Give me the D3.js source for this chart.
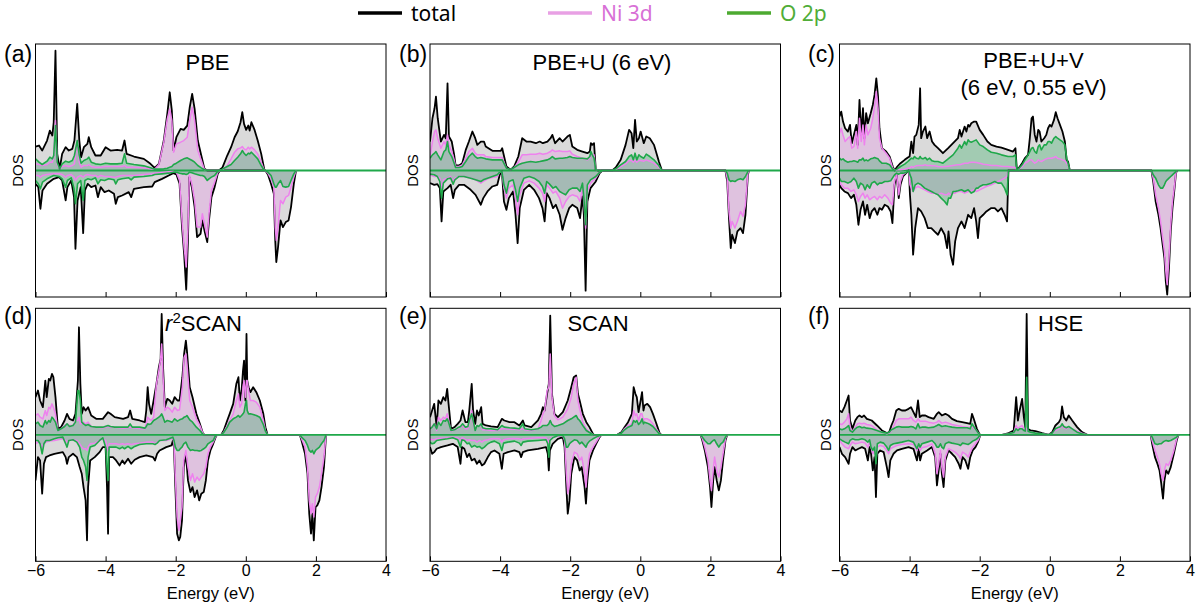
<!DOCTYPE html>
<html>
<head>
<meta charset="utf-8">
<script src="https://cdn.jsdelivr.net/npm/d3@7"></script>
<style>
  body { margin: 0; background: #fff; }
  svg text { font-family: "Liberation Sans", Arial, sans-serif; fill: #000; }
</style>
</head>
<body>
<svg id="chart" width="1198" height="609"></svg>
<script>
// energies (eV) and DOS values (arb. units)
// spin up rows: energy, total, Ni 3d, O 2p ; spin down likewise (negative)

// (a) PBE
const pbeUpE = [-6.00,-5.90,-5.81,-5.67,-5.59,-5.52,-5.48,-5.43,-5.38,-5.31,-5.24,-5.14,-5.05,-4.95,-4.89,-4.81,-4.75,-4.70,-4.62,-4.52,-4.48,-4.41,-4.29,-4.14,-4.00,-3.86,-3.67,-3.53,-3.46,-3.40,-3.19,-2.91,-2.72,-2.60,-2.48,-2.34,-2.24,-2.17,-2.11,-2.06,-1.98,-1.86,-1.77,-1.67,-1.60,-1.53,-1.46,-1.37,-1.27,-1.18,-1.10,-0.77,-0.67,-0.53,-0.42,-0.32,-0.23,-0.15,-0.10,-0.05,0.01,0.07,0.11,0.16,0.25,0.34,0.44,0.53];
const pbeUpTot = [7.2,7.5,6.0,9.0,12.0,10.5,14.5,36.0,5.0,0.5,5.0,7.0,6.0,6.5,9.0,20.0,9.0,4.0,7.0,8.0,10.0,7.0,4.5,4.5,7.0,6.0,6.2,6.0,9.0,5.0,4.2,3.5,2.0,0.8,2.0,9.0,17.0,23.5,18.0,6.0,10.0,12.5,12.2,13.5,19.0,23.0,18.5,9.0,4.5,0.5,0,0,0.8,4.5,7.0,10.0,11.8,14.5,17.5,14.0,12.2,13.5,12.0,14.5,12.2,9.0,5.0,0.2];
const pbeUpNi = [2.0,1.8,1.5,1.8,2.5,2.5,4.0,15.0,1.8,0.5,1.2,1.5,1.2,1.5,2.0,9.0,2.5,1.0,1.5,1.5,1.8,1.2,1.0,1.0,1.2,1.2,1.2,1.2,1.5,1.0,1.0,0.8,0.5,0.4,1.8,8.5,15.5,18.5,15.0,5.5,8.0,8.5,9.0,10.0,15.0,19.0,15.0,6.0,3.0,0.2,0,0,0.2,1.5,3.5,5.5,6.5,6.8,7.2,6.5,6.2,7.0,6.5,7.0,6.2,5.0,2.5,0];
const pbeUpO = [3.5,2.5,1.8,2.8,4.0,3.5,4.5,13.5,2.5,0.5,2.0,2.8,2.5,3.0,4.5,9.0,4.5,2.2,3.0,3.5,4.0,2.5,2.0,1.8,2.2,2.0,2.0,2.2,5.0,2.2,1.8,1.4,0.8,0.4,0.4,0.5,0.7,1.0,1.2,1.8,2.2,3.0,3.5,3.8,3.4,3.0,2.5,1.5,0.8,0.2,0,0,0.4,1.2,1.8,3.0,4.0,5.0,6.0,5.2,4.5,5.2,5.0,5.5,4.5,3.5,1.5,0];
const pbeDnE = [-6.00,-5.92,-5.86,-5.80,-5.67,-5.48,-5.33,-5.24,-5.14,-5.09,-4.98,-4.90,-4.86,-4.80,-4.71,-4.64,-4.59,-4.51,-4.41,-4.29,-4.22,-4.14,-4.03,-3.91,-3.76,-3.71,-3.65,-3.53,-3.34,-3.27,-3.19,-2.91,-2.67,-2.60,-2.39,-2.20,-2.07,-1.98,-1.89,-1.82,-1.76,-1.70,-1.65,-1.61,-1.54,-1.46,-1.39,-1.29,-1.24,-1.18,-1.10,-1.05,-0.98,-0.89,-0.80,-0.74,0.56,0.63,0.72,0.80,0.84,0.87,0.92,0.99,1.06,1.14,1.22,1.29,1.37,1.43];
const pbeDnTot = [-4.0,-5.0,-11.5,-6.0,-4.0,-2.5,-2.0,-3.0,-9.0,-5.0,-3.0,-8.0,-23.5,-9.0,-5.0,-18.8,-6.0,-4.0,-5.0,-4.5,-8.0,-5.0,-6.5,-6.0,-7.0,-10.0,-8.0,-7.5,-6.5,-8.0,-5.5,-5.0,-4.8,-3.5,-2.5,-1.5,-0.8,-1.2,-4.0,-17.0,-25.0,-35.8,-21.0,-2.0,-5.0,-11.0,-20.0,-19.0,-15.0,-18.0,-21.5,-15.0,-8.0,-5.0,-1.0,0,0,-1.2,-4.0,-7.0,-21.0,-27.5,-23.0,-15.0,-17.0,-15.5,-15.0,-11.0,-4.0,-0.2];
const pbeDnNi = [-1.5,-1.5,-2.0,-1.5,-1.2,-1.0,-1.0,-1.2,-2.0,-1.5,-1.2,-2.0,-3.0,-2.0,-1.5,-2.0,-1.5,-1.2,-1.5,-1.5,-2.0,-1.5,-1.8,-1.8,-2.0,-2.0,-1.8,-1.5,-1.5,-1.5,-1.5,-1.2,-1.0,-0.8,-0.6,-0.4,-0.3,-0.5,-3.0,-15.0,-23.0,-29.0,-17.0,-1.5,-4.0,-9.0,-17.0,-17.0,-13.0,-16.0,-20.0,-13.0,-6.0,-3.5,-0.5,0,0,-0.8,-2.5,-5.0,-17.0,-21.0,-17.0,-9.0,-10.0,-8.0,-7.5,-5.0,-2.0,0];
const pbeDnO = [-3.0,-4.0,-5.5,-3.5,-2.5,-1.5,-1.8,-2.5,-5.0,-3.0,-2.2,-5.5,-10.0,-4.0,-3.0,-9.0,-3.0,-2.5,-2.8,-2.2,-4.0,-2.8,-3.0,-2.5,-2.8,-4.0,-2.8,-2.5,-2.2,-2.8,-2.0,-1.8,-1.5,-1.2,-1.0,-0.8,-0.5,-0.5,-0.8,-1.0,-1.0,-1.2,-1.0,-0.5,-0.7,-1.0,-1.2,-1.5,-1.5,-1.8,-3.0,-2.5,-2.0,-1.5,-0.2,0,0,-0.5,-1.5,-4.0,-5.0,-5.0,-4.0,-3.0,-4.8,-5.0,-4.8,-3.0,-1.0,0];

// (b) PBE+U (6 eV)
const pbeuUpE = [-6.00,-5.93,-5.87,-5.83,-5.78,-5.69,-5.60,-5.55,-5.50,-5.46,-5.38,-5.31,-5.27,-5.17,-5.08,-4.98,-4.89,-4.79,-4.71,-4.65,-4.55,-4.46,-4.41,-4.22,-3.98,-3.94,-3.82,-3.70,-3.60,-3.48,-3.37,-3.25,-3.13,-2.98,-2.87,-2.78,-2.65,-2.56,-2.51,-2.43,-2.30,-2.22,-2.08,-2.01,-1.94,-1.80,-1.65,-1.51,-1.44,-1.41,-1.37,-1.32,-1.27,-1.18,-0.80,-0.70,-0.56,-0.42,-0.32,-0.25,-0.20,-0.15,-0.10,-0.04,0.01,0.10,0.17,0.27,0.39,0.53,0.61];
const pbeuUpTot = [8.7,15.7,18.7,22.2,15.7,8.7,10.7,9.7,26.2,10.2,8.7,4.7,1.5,1.5,2.2,6.2,8.7,11.7,9.7,7.7,8.7,8.7,7.2,5.9,5.9,6.7,1.2,0.2,1.2,4.2,9.7,8.7,8.7,8.2,8.7,8.2,8.7,9.7,10.7,8.2,9.7,8.7,10.2,10.7,7.2,6.2,5.7,5.2,5.7,8.2,7.7,8.2,0.2,0,0,0.9,3.2,7.7,12.2,11.2,6.7,15.2,8.7,9.7,11.7,8.2,10.2,9.7,7.7,2.7,0.2];
const pbeuUpNi = [4.2,8.7,11.7,12.2,9.7,6.7,8.7,7.7,10.7,7.7,5.7,3.2,1.2,1.2,1.7,3.7,5.7,6.7,5.2,4.7,4.7,4.7,4.2,3.9,3.9,3.9,0.7,0.2,0.9,2.5,4.7,4.7,4.9,4.9,5.2,4.9,5.2,5.7,6.2,5.7,5.9,5.7,5.7,5.9,4.9,4.2,3.7,3.2,3.7,4.7,4.7,4.7,0.2,0,0,0.3,1.2,2.0,3.0,3.0,2.5,3.2,2.5,3.0,3.0,2.8,3.2,2.8,2.2,1.0,0.1];
const pbeuUpO = [3.7,4.7,5.2,5.7,4.7,3.2,5.7,6.2,8.7,5.7,4.2,2.2,0.9,0.9,1.2,2.7,4.2,5.2,4.2,3.7,3.9,3.7,3.5,3.2,3.2,3.2,0.7,0.2,0.9,1.7,2.2,2.5,2.7,2.5,2.7,2.9,3.2,3.7,4.2,3.5,3.7,3.7,3.9,4.2,3.9,3.7,3.7,3.5,4.2,5.7,4.7,3.7,0.2,0,0,0.5,1.7,2.7,4.2,4.7,3.2,5.2,3.2,4.7,4.2,3.7,4.9,4.2,3.2,1.5,0.1];
const pbeuDnE = [-6.00,-5.88,-5.79,-5.72,-5.67,-5.62,-5.50,-5.41,-5.34,-5.29,-5.17,-5.03,-4.84,-4.70,-4.55,-4.48,-4.36,-4.22,-4.08,-4.01,-3.95,-3.89,-3.82,-3.75,-3.63,-3.56,-3.50,-3.44,-3.32,-3.17,-3.03,-2.89,-2.79,-2.73,-2.67,-2.59,-2.49,-2.41,-2.30,-2.22,-2.13,-2.03,-1.94,-1.80,-1.72,-1.65,-1.61,-1.56,-1.51,-1.42,-1.27,-1.16,-1.08,2.43,2.48,2.53,2.58,2.62,2.70,2.77,2.86,2.93,3.00,3.07,3.10];
const pbeuDnTot = [-3.8,-4.3,-4.1,-5.3,-15.3,-6.3,-5.3,-4.3,-8.3,-5.8,-4.3,-4.3,-5.8,-7.3,-10.3,-8.3,-6.3,-4.8,-4.3,-1.3,-0.3,-9.3,-11.8,-8.3,-6.3,-13.3,-21.8,-11.3,-5.8,-4.3,-5.8,-8.3,-11.3,-15.3,-6.8,-8.3,-11.3,-10.3,-13.3,-17.8,-14.3,-11.3,-10.3,-11.3,-14.3,-7.8,-13.3,-36.1,-9.3,-5.3,-3.3,-0.8,0,0,-3.3,-14.3,-23.3,-19.3,-21.8,-18.3,-17.3,-18.8,-13.3,-1.3,0];
const pbeuDnNi = [-1.3,-1.8,-1.8,-2.3,-5.3,-2.8,-2.3,-1.8,-3.3,-2.3,-1.8,-1.8,-2.3,-2.8,-3.8,-3.3,-2.5,-2.1,-1.8,-0.5,-0.3,-5.3,-8.3,-5.3,-4.3,-8.3,-13.3,-7.3,-3.8,-3.1,-3.8,-5.3,-6.8,-9.3,-4.3,-5.3,-6.8,-6.3,-8.3,-11.3,-9.3,-7.8,-7.3,-7.8,-9.3,-5.3,-9.3,-17.3,-6.3,-3.8,-2.3,-0.5,0,0,-2.3,-12.3,-17.3,-15.3,-17.3,-15.3,-12.3,-13.8,-10.3,-0.8,0];
const pbeuDnO = [-1.1,-1.3,-1.8,-3.3,-8.3,-3.8,-2.5,-2.3,-4.1,-2.8,-1.8,-1.8,-2.3,-2.8,-3.3,-2.8,-2.3,-1.8,-1.3,-0.5,-0.3,-4.3,-6.8,-3.3,-2.8,-5.8,-9.3,-5.3,-2.3,-1.8,-2.3,-3.3,-4.8,-6.8,-3.3,-4.1,-5.3,-4.8,-6.3,-6.8,-7.3,-5.8,-5.3,-5.3,-6.3,-3.8,-8.3,-16.3,-4.3,-2.8,-1.8,-0.5,0,0,-0.8,-2.8,-3.3,-3.1,-3.3,-2.8,-2.5,-2.8,-1.8,-0.3,0];

// (c) PBE+U+V (6 eV, 0.55 eV)
const pbeuvUpE = [-6.00,-5.95,-5.90,-5.84,-5.76,-5.70,-5.65,-5.59,-5.52,-5.48,-5.43,-5.38,-5.33,-5.29,-5.24,-5.19,-5.11,-5.05,-5.00,-4.95,-4.90,-4.86,-4.79,-4.67,-4.57,-4.48,-4.43,-4.35,-4.26,-4.14,-4.05,-4.00,-3.95,-3.90,-3.86,-3.81,-3.74,-3.70,-3.67,-3.62,-3.55,-3.50,-3.43,-3.36,-3.29,-3.19,-3.05,-2.90,-2.76,-2.62,-2.57,-2.52,-2.43,-2.38,-2.33,-2.29,-2.24,-2.16,-2.10,-2.00,-1.90,-1.78,-1.67,-1.52,-1.38,-1.19,-1.05,-0.98,-0.94,-0.89,-0.79,-0.71,-0.62,-0.57,-0.52,-0.48,-0.43,-0.38,-0.33,-0.29,-0.24,-0.16,-0.10,-0.05,0.00,0.05,0.12,0.17,0.22,0.29,0.36,0.43,0.48,0.52,0.57];
const pbeuvUpTot = [16.2,17.7,14.7,12.7,11.7,13.7,8.2,10.7,13.7,7.7,21.2,10.7,18.7,9.7,17.2,14.2,17.2,19.7,22.7,27.7,22.2,12.7,6.7,5.7,4.2,1.2,0,1.2,2.2,3.2,3.9,4.2,8.7,5.2,10.2,10.7,13.7,24.7,9.7,11.7,13.2,9.7,11.7,8.7,7.7,6.7,5.2,6.7,8.2,9.7,12.2,10.2,13.2,11.7,13.7,13.2,14.2,14.7,14.7,12.2,10.7,8.7,7.7,7.2,6.9,6.2,5.7,6.7,0.2,0.7,2.2,3.7,4.7,9.7,15.7,16.2,10.7,8.7,12.2,11.7,8.7,9.7,10.7,12.7,13.7,13.2,15.2,17.5,15.7,13.7,11.7,8.7,3.2,2.7,0];
const pbeuvUpNi = [11.2,12.7,10.7,8.7,9.7,10.2,6.7,7.2,11.7,6.7,15.7,8.7,13.7,7.7,13.7,10.7,12.7,15.7,19.2,23.7,18.7,9.7,6.7,5.2,3.7,0.7,0,0.2,0.2,0.4,0.7,0.7,1.2,0.9,1.2,1.4,1.5,1.5,1.5,1.5,1.7,1.5,1.5,1.4,1.4,1.2,1.1,1.3,1.5,1.7,1.7,1.9,2.2,2.2,2.2,2.4,2.5,2.5,2.4,2.2,1.9,1.7,1.5,1.5,1.3,1.2,1.0,0.9,0.2,0.4,1.2,2.2,2.7,3.2,3.2,2.7,2.2,2.5,3.2,2.9,2.7,3.2,3.5,3.7,3.7,3.7,3.9,4.2,3.7,3.5,3.2,2.9,2.2,1.7,0];
const pbeuvUpO = [3.7,3.2,3.5,2.9,2.5,2.7,2.7,2.9,2.7,2.5,3.2,3.2,3.7,2.9,3.2,2.9,3.5,3.7,3.9,3.7,3.5,2.9,2.2,2.2,1.7,0.4,0,0.5,1.2,1.9,2.7,3.2,3.7,3.5,4.2,3.7,3.5,4.2,3.7,3.5,3.9,3.2,3.7,2.9,2.7,2.7,2.2,3.5,4.7,6.7,7.7,6.7,8.7,7.7,9.2,8.7,8.5,8.9,9.2,7.7,7.2,6.2,5.5,5.2,4.7,4.2,4.2,4.7,0.2,0.5,1.7,3.2,4.7,5.7,6.7,6.9,5.7,5.2,7.2,7.7,6.2,7.7,7.7,8.7,8.7,8.2,9.7,10.2,9.7,9.2,8.7,7.7,3.7,2.2,0];
const pbeuvDnE = [-6.00,-5.95,-5.86,-5.76,-5.67,-5.59,-5.52,-5.46,-5.40,-5.33,-5.27,-5.21,-5.14,-5.08,-5.00,-4.92,-4.86,-4.79,-4.71,-4.62,-4.54,-4.49,-4.43,-4.37,-4.31,-4.26,-4.19,-4.10,-4.02,-3.99,-3.95,-3.90,-3.84,-3.76,-3.67,-3.57,-3.48,-3.38,-3.29,-3.19,-3.10,-3.00,-2.93,-2.89,-2.83,-2.76,-2.70,-2.62,-2.52,-2.43,-2.33,-2.24,-2.16,-2.10,-2.05,-2.00,-1.90,-1.81,-1.67,-1.57,-1.48,-1.38,-1.29,-1.22,-1.18,2.90,2.95,3.02,3.10,3.16,3.22,3.27,3.31,3.35,3.40,3.45,3.50,3.55,3.60,3.63];
const pbeuvDnTot = [-4.3,-5.3,-6.3,-6.8,-8.3,-7.3,-10.3,-16.3,-11.8,-9.3,-13.3,-10.3,-14.3,-12.3,-11.3,-13.3,-11.3,-11.8,-10.3,-10.8,-12.3,-15.8,-4.3,-1.3,-8.3,-4.3,-1.8,-0.8,0,-7.3,-13.3,-25.3,-17.3,-11.3,-12.3,-14.3,-17.3,-17.3,-18.3,-19.3,-17.3,-19.3,-23.3,-18.3,-25.3,-28.3,-21.3,-17.3,-15.3,-17.3,-13.3,-14.3,-11.3,-15.3,-20.3,-14.3,-13.3,-12.3,-11.3,-11.3,-12.3,-11.3,-13.3,-15.3,0,0,-3.3,-9.3,-13.3,-17.3,-22.3,-26.3,-33.3,-37.3,-29.3,-18.3,-11.3,-6.3,-0.8,0];
const pbeuvDnNi = [-3.3,-4.3,-5.3,-5.3,-6.3,-5.8,-7.3,-9.3,-7.8,-6.8,-8.3,-7.3,-8.8,-8.3,-7.8,-8.8,-7.8,-8.3,-7.3,-8.3,-9.8,-10.3,-3.3,-1.1,-7.3,-3.3,-1.3,-0.6,0,-4.3,-5.3,-6.3,-5.3,-4.8,-5.3,-5.8,-6.3,-6.8,-6.8,-7.3,-6.8,-7.3,-7.3,-6.8,-7.3,-6.8,-6.8,-6.3,-6.3,-6.8,-6.3,-6.1,-5.8,-6.3,-6.1,-5.8,-5.3,-4.8,-4.3,-3.8,-3.3,-2.8,-2.3,-1.8,0,0,-2.3,-7.3,-11.3,-15.3,-20.3,-24.3,-30.3,-34.3,-26.3,-16.3,-9.3,-5.3,-0.6,0];
const pbeuvDnO = [-2.3,-3.3,-3.3,-3.8,-3.3,-2.3,-3.3,-5.3,-3.8,-4.3,-5.8,-4.3,-5.3,-3.8,-3.3,-4.3,-3.8,-3.8,-3.3,-3.3,-3.1,-2.3,-1.3,-0.8,-1.1,-0.8,-0.8,-0.6,0,-1.3,-2.3,-6.3,-4.3,-3.8,-4.3,-5.3,-5.8,-6.3,-6.8,-7.3,-8.3,-9.3,-10.3,-8.3,-8.3,-6.3,-6.3,-6.1,-5.8,-6.3,-5.8,-6.8,-6.3,-5.3,-5.3,-4.8,-4.3,-4.3,-3.8,-3.3,-3.8,-3.8,-5.3,-7.3,0,0,-1.3,-2.3,-4.3,-5.3,-5.3,-4.3,-3.3,-2.8,-2.3,-1.8,-1.3,-0.8,-0.3,0];

// (d) r2SCAN
const r2scanUpE = [-6.00,-5.93,-5.87,-5.79,-5.72,-5.68,-5.62,-5.58,-5.53,-5.49,-5.43,-5.36,-5.27,-5.17,-5.10,-5.03,-4.93,-4.86,-4.79,-4.76,-4.72,-4.68,-4.63,-4.57,-4.50,-4.41,-4.27,-4.08,-3.93,-3.86,-3.74,-3.50,-3.36,-3.30,-3.24,-3.03,-2.88,-2.84,-2.80,-2.76,-2.70,-2.63,-2.55,-2.48,-2.43,-2.40,-2.36,-2.31,-2.24,-2.17,-2.10,-2.03,-1.95,-1.89,-1.81,-1.76,-1.71,-1.68,-1.60,-1.52,-1.41,-1.31,-1.22,-1.17,-0.70,-0.63,-0.53,-0.46,-0.36,-0.27,-0.21,-0.17,-0.12,-0.08,-0.05,-0.01,0.02,0.04,0.08,0.13,0.21,0.30,0.40,0.50,0.56,0.62];
const r2scanUpTot = [11.3,13.3,10.3,8.3,16.3,11.3,16.8,16.3,18.3,17.3,11.3,1.8,2.3,4.3,6.3,4.8,4.3,6.3,16.3,32.3,15.3,6.3,8.3,7.3,8.3,5.8,4.8,4.8,6.8,6.3,5.3,4.8,5.3,7.3,4.8,4.3,3.8,7.3,14.3,9.3,6.3,10.3,15.3,20.3,22.8,36.3,20.3,8.3,10.8,10.3,9.3,11.3,10.3,10.3,17.3,24.3,28.3,25.3,14.3,11.3,6.3,3.3,0.3,0,0,1.3,4.3,6.3,9.3,15.3,17.3,10.3,13.3,19.3,22.3,10.3,30.3,16.3,14.3,12.8,14.3,12.8,10.3,6.3,2.3,0];
const r2scanUpNi = [5.8,6.3,5.3,4.8,7.3,5.8,8.3,7.8,9.3,8.3,6.3,1.3,1.8,2.8,3.3,2.8,2.8,4.3,4.3,5.3,3.3,3.3,3.8,3.3,3.8,2.5,2.3,2.1,2.5,2.3,2.3,2.0,2.1,2.3,2.1,1.9,1.8,3.3,5.3,4.8,4.3,5.3,15.3,19.3,22.8,27.3,17.3,7.3,8.3,7.8,6.8,8.3,7.3,7.5,14.3,23.3,24.3,21.3,10.3,8.3,4.8,2.8,0.3,0,0,0.8,2.8,4.3,6.3,10.3,12.3,8.3,9.3,14.3,16.3,11.3,16.3,16.3,13.3,10.3,10.3,9.8,8.3,4.3,1.3,0];
const r2scanUpO = [3.3,3.8,2.8,2.3,4.3,3.3,4.3,3.8,5.3,4.8,3.8,1.3,1.8,2.5,3.3,2.5,2.8,3.8,13.3,13.3,10.3,3.8,3.3,2.8,3.1,2.5,2.3,2.3,2.8,2.5,2.3,2.3,2.3,3.3,2.3,2.3,2.0,2.5,3.3,3.1,3.3,4.3,4.8,5.3,5.8,6.3,5.3,3.8,4.3,4.1,3.8,4.8,4.1,4.5,4.8,5.3,5.5,5.8,4.5,3.8,2.3,1.3,0.1,0,0,0.7,2.3,3.8,4.8,5.3,5.8,5.3,5.8,6.3,6.8,9.3,10.3,7.3,6.3,6.3,6.1,5.8,5.3,3.1,1.1,0];
const r2scanDnE = [-6.00,-5.93,-5.87,-5.81,-5.76,-5.70,-5.60,-5.46,-5.36,-5.22,-5.14,-5.10,-5.05,-4.93,-4.82,-4.74,-4.68,-4.63,-4.57,-4.53,-4.50,-4.44,-4.31,-4.17,-4.08,-4.00,-3.96,-3.93,-3.90,-3.79,-3.70,-3.60,-3.52,-3.46,-3.36,-3.27,-3.17,-3.03,-2.84,-2.65,-2.59,-2.53,-2.46,-2.27,-2.12,-2.08,-2.05,-2.01,-1.96,-1.91,-1.87,-1.82,-1.77,-1.71,-1.65,-1.58,-1.52,-1.46,-1.39,-1.33,-1.27,-1.20,-1.14,-1.08,-1.01,-0.93,-0.86,-0.82,1.54,1.59,1.69,1.76,1.81,1.86,1.90,1.94,1.99,2.04,2.10,2.16,2.23,2.29];
const r2scanDnTot = [-13.7,-6.7,-7.7,-17.7,-8.7,-6.7,-6.2,-5.7,-5.5,-5.2,-6.7,-8.7,-6.7,-5.7,-6.7,-9.7,-11.7,-15.7,-19.7,-31.7,-15.7,-7.7,-6.7,-5.2,-3.7,-3.7,-15.7,-29.7,-6.7,-6.7,-7.7,-9.2,-7.7,-8.7,-7.2,-8.7,-7.5,-6.7,-6.2,-6.7,-7.7,-5.7,-4.7,-3.7,-3.2,-1.7,-3.7,-15.7,-29.7,-31.7,-30.7,-25.7,-9.7,-5.7,-13.7,-17.2,-15.7,-18.7,-16.7,-19.7,-17.7,-17.2,-13.7,-7.7,-4.7,-2.7,-0.7,0,0,-1.7,-5.7,-11.7,-23.7,-29.7,-23.7,-31.7,-21.7,-21.2,-19.7,-15.7,-9.7,0];
const r2scanDnNi = [-2.7,-2.2,-2.5,-3.7,-2.7,-2.2,-1.9,-1.7,-1.5,-1.2,-1.7,-2.2,-1.7,-1.5,-1.7,-2.7,-3.7,-4.2,-4.2,-4.7,-3.7,-2.7,-2.5,-1.7,-1.2,-1.7,-3.7,-4.7,-2.7,-2.7,-2.7,-2.9,-2.7,-2.9,-2.7,-2.9,-2.7,-2.5,-2.2,-2.2,-2.7,-2.2,-1.7,-1.7,-1.2,-0.9,-2.7,-12.7,-24.7,-28.7,-25.7,-21.7,-7.7,-4.7,-9.7,-13.7,-11.7,-14.2,-12.7,-13.7,-12.7,-11.7,-9.7,-5.7,-3.7,-2.2,-0.5,0,0,-1.2,-3.7,-9.7,-19.7,-23.7,-20.7,-24.7,-18.7,-17.7,-15.7,-11.7,-6.7,0];
const r2scanDnO = [-1.7,-1.7,-2.7,-5.7,-2.7,-1.7,-1.7,-1.2,-0.9,-0.7,-2.7,-3.7,-1.7,-1.5,-2.2,-3.7,-6.7,-7.7,-9.7,-13.7,-6.7,-3.7,-3.2,-1.7,-0.9,-3.7,-9.7,-13.7,-3.7,-3.7,-3.7,-4.2,-3.7,-4.2,-3.5,-4.2,-3.5,-2.9,-2.7,-2.7,-2.9,-2.5,-1.7,-1.5,-0.9,-0.7,-1.7,-3.7,-4.7,-4.7,-4.2,-3.7,-2.7,-2.2,-3.7,-4.7,-4.5,-4.7,-4.7,-4.9,-4.7,-4.2,-3.7,-2.7,-2.2,-1.7,-0.2,0,0,-0.7,-1.7,-3.2,-4.7,-5.2,-4.7,-5.7,-4.7,-4.2,-3.7,-2.7,-1.7,0];

// (e) SCAN
const scanUpE = [-6.00,-5.94,-5.88,-5.81,-5.76,-5.69,-5.62,-5.56,-5.51,-5.47,-5.40,-5.30,-5.21,-5.13,-5.07,-4.99,-4.92,-4.88,-4.81,-4.77,-4.71,-4.66,-4.61,-4.54,-4.50,-4.40,-4.26,-4.07,-3.95,-3.88,-3.73,-3.59,-3.45,-3.35,-3.30,-3.11,-2.92,-2.83,-2.78,-2.73,-2.66,-2.61,-2.57,-2.52,-2.45,-2.35,-2.21,-2.07,-1.97,-1.90,-1.83,-1.78,-1.73,-1.64,-1.54,-1.45,-1.35,-1.32,-0.66,-0.54,-0.45,-0.35,-0.24,-0.19,-0.14,-0.10,-0.05,0.01,0.05,0.09,0.12,0.20,0.28,0.36,0.46,0.55,0.60];
const scanUpTot = [5.3,7.3,9.3,2.3,10.3,9.3,11.3,10.3,13.8,9.3,1.8,2.3,3.3,4.3,7.3,3.8,3.8,7.3,15.3,7.3,3.3,7.3,5.8,8.3,3.3,2.8,2.5,2.3,4.8,4.3,3.8,3.8,2.8,4.3,2.8,2.3,4.3,6.3,8.3,7.3,12.3,15.3,35.8,12.3,6.3,5.3,6.8,10.3,14.3,17.3,17.8,12.3,10.3,6.3,3.8,2.3,0.3,0,0,0.8,2.3,3.8,6.3,14.3,12.3,11.3,6.8,10.3,12.8,7.3,8.8,9.3,8.3,6.3,3.3,0.5,0];
const scanUpNi = [1.8,2.5,3.3,1.3,5.3,4.3,5.3,4.8,6.3,4.3,1.1,1.5,1.8,2.3,2.8,1.8,1.8,3.3,7.3,3.3,1.5,2.8,2.5,3.1,1.5,1.5,1.3,1.3,1.8,1.8,1.7,1.7,1.5,1.9,1.5,1.3,1.8,4.3,6.3,7.3,13.3,14.3,24.3,11.3,5.8,4.5,5.3,7.8,11.3,15.3,17.3,10.3,7.8,3.8,1.8,0.8,0.1,0,0,0.5,1.8,2.8,3.3,7.3,5.8,6.3,4.3,6.3,6.3,4.3,4.8,4.8,4.3,3.3,1.8,0.3,0];
const scanUpO = [1.8,2.3,3.3,1.8,3.8,2.8,4.3,4.1,4.8,3.8,1.3,1.5,2.1,2.5,3.3,2.3,2.5,4.3,6.3,4.3,1.3,2.8,2.5,3.3,2.1,1.8,1.8,1.5,2.8,2.3,2.1,2.0,1.8,3.3,1.8,1.5,1.8,2.3,2.8,2.8,2.8,3.3,4.3,3.1,2.5,2.8,3.3,4.3,4.8,5.3,5.8,4.8,4.3,2.8,1.3,0.7,0.1,0,0,0.5,1.5,2.3,2.8,4.3,3.8,4.3,3.1,3.8,4.8,3.3,3.8,3.5,3.1,2.5,1.3,0.2,0];
const scanDnE = [-6.00,-5.94,-5.88,-5.81,-5.69,-5.50,-5.35,-5.21,-5.13,-5.09,-5.02,-4.94,-4.88,-4.81,-4.73,-4.66,-4.59,-4.52,-4.45,-4.35,-4.26,-4.16,-4.02,-3.95,-3.90,-3.78,-3.59,-3.45,-3.40,-3.35,-3.21,-2.92,-2.69,-2.64,-2.61,-2.58,-2.50,-2.35,-2.21,-2.16,-2.11,-2.07,-2.02,-1.97,-1.88,-1.80,-1.73,-1.67,-1.59,-1.55,-1.51,-1.45,-1.35,-1.26,-1.16,-1.11,1.72,1.77,1.84,1.93,1.99,2.03,2.08,2.12,2.18,2.24,2.30,2.36,2.43,2.48];
const scanDnTot = [-3.7,-5.7,-5.2,-4.2,-3.7,-3.2,-2.7,-3.7,-8.7,-3.7,-4.2,-6.7,-5.7,-7.7,-7.2,-8.7,-7.7,-9.2,-8.7,-6.7,-5.2,-4.7,-5.7,-10.2,-5.7,-5.2,-4.7,-5.2,-6.7,-5.2,-4.7,-4.2,-3.7,-5.7,-10.7,-4.7,-2.7,-1.2,-0.7,-3.7,-15.7,-23.7,-19.7,-11.7,-6.7,-7.7,-10.7,-9.7,-15.7,-20.7,-13.7,-7.7,-4.7,-2.7,-0.7,0,0,-1.7,-4.7,-9.7,-15.7,-21.7,-13.7,-9.7,-13.7,-16.7,-13.7,-7.7,-1.7,0];
const scanDnNi = [-1.2,-1.5,-1.5,-1.2,-1.0,-0.9,-0.7,-0.9,-1.7,-0.9,-1.2,-1.7,-1.5,-1.7,-1.7,-2.2,-1.7,-2.2,-1.7,-1.5,-1.2,-1.1,-1.2,-2.2,-1.5,-1.2,-1.1,-1.2,-1.5,-1.2,-1.1,-0.9,-0.9,-1.7,-2.7,-1.2,-0.7,-0.5,-0.3,-1.7,-11.7,-17.7,-14.7,-8.7,-5.2,-5.7,-7.7,-6.7,-11.7,-15.7,-10.7,-5.7,-3.7,-2.2,-0.5,0,0,-1.2,-3.7,-7.7,-13.7,-16.7,-10.7,-6.7,-10.7,-12.7,-9.7,-5.7,-1.2,0];
const scanDnO = [-2.2,-2.7,-2.5,-1.7,-1.5,-1.2,-0.9,-1.5,-3.7,-1.5,-1.7,-2.7,-2.5,-3.7,-3.2,-3.7,-3.5,-4.2,-3.7,-2.7,-2.2,-1.9,-2.7,-4.7,-2.5,-2.2,-1.9,-2.5,-3.2,-2.2,-1.9,-1.7,-1.5,-2.7,-6.7,-1.7,-0.9,-0.2,-0.2,-1.2,-3.7,-3.7,-2.7,-2.2,-1.5,-1.7,-2.7,-2.2,-3.2,-3.7,-2.7,-1.9,-1.2,-0.7,-0.2,0,0,-0.7,-1.7,-2.7,-2.7,-2.2,-1.7,-1.5,-2.7,-3.7,-2.7,-2.2,-0.7,0];

// (f) HSE
const hseUpE = [-6.00,-5.93,-5.86,-5.79,-5.74,-5.70,-5.63,-5.55,-5.49,-5.43,-5.36,-5.30,-5.22,-5.08,-4.93,-4.79,-4.65,-4.58,-4.52,-4.46,-4.38,-4.31,-4.22,-4.12,-4.03,-3.96,-3.89,-3.82,-3.76,-3.71,-3.65,-3.55,-3.46,-3.31,-3.22,-3.17,-3.08,-2.98,-2.89,-2.79,-2.65,-2.50,-2.36,-2.27,-2.22,-2.17,-2.08,-2.01,-1.98,-1.36,-1.17,-1.03,-0.96,-0.91,-0.86,-0.79,-0.74,-0.70,-0.66,-0.62,-0.55,-0.41,-0.22,-0.03,0.07,0.16,0.26,0.31,0.35,0.40,0.47,0.54,0.64,0.78,0.92,1.07];
const hseUpTot = [7.3,6.8,8.3,10.3,11.8,4.3,1.8,4.3,5.3,5.8,5.3,5.8,4.8,4.3,2.8,1.3,0.5,0.8,2.8,4.3,7.3,7.8,7.3,7.3,7.8,8.3,6.8,5.3,10.3,5.3,5.8,5.8,5.3,4.8,6.3,6.8,5.8,6.3,5.8,4.8,4.1,3.8,3.5,3.3,6.3,4.8,1.8,0.3,0,0,0.5,1.3,11.3,4.3,7.3,10.8,5.3,2.3,36.3,1.8,1.3,1.1,0.5,0,0.8,2.8,3.8,4.8,8.5,5.3,4.3,5.8,4.3,2.3,0.8,0];
const hseUpNi = [3.3,3.1,3.8,4.8,6.3,2.3,0.8,2.3,3.3,3.5,3.3,3.5,3.1,2.8,1.5,0.8,0.3,0.5,1.3,2.5,4.3,4.8,4.8,4.8,4.8,5.3,4.3,3.8,4.8,4.1,4.1,4.1,3.8,3.5,3.8,4.3,3.5,3.8,3.5,3.1,2.8,2.5,2.3,2.3,2.3,2.1,1.1,0.1,0,0,0.3,0.7,2.8,1.8,2.3,2.8,1.8,1.3,1.8,1.1,0.8,0.5,0.3,0,0.5,1.3,1.8,2.3,2.8,2.1,1.8,2.3,1.8,1.1,0.5,0];
const hseUpO = [1.8,1.5,1.8,2.3,2.8,1.3,0.8,1.8,2.3,2.5,2.1,2.3,2.0,1.8,1.3,0.8,0.5,0.8,1.5,1.8,2.3,2.5,2.3,2.3,2.3,2.5,2.3,1.8,3.3,2.1,2.3,2.3,2.1,2.3,2.8,3.1,2.5,2.7,2.5,2.3,2.1,2.1,2.1,1.8,3.3,2.5,1.1,0.1,0,0,0.3,0.7,1.8,1.3,1.8,1.8,1.3,1.1,17.3,1.1,0.8,0.5,0.3,0,0.5,1.8,2.3,2.5,3.3,2.5,2.1,2.5,1.8,0.8,0.3,0];
const hseDnE = [-6.00,-5.93,-5.84,-5.74,-5.70,-5.63,-5.55,-5.46,-5.36,-5.27,-5.19,-5.14,-5.10,-5.05,-5.00,-4.96,-4.92,-4.84,-4.74,-4.65,-4.60,-4.55,-4.46,-4.36,-4.22,-4.03,-3.89,-3.79,-3.74,-3.70,-3.65,-3.50,-3.36,-3.27,-3.22,-3.17,-3.12,-3.08,-3.03,-2.98,-2.89,-2.79,-2.70,-2.60,-2.55,-2.49,-2.41,-2.33,-2.27,-2.20,-2.12,-2.05,-1.98,2.88,2.92,3.00,3.07,3.13,3.18,3.23,3.27,3.32,3.38,3.45,3.54,3.62,3.67];
const hseDnTot = [-3.7,-5.7,-6.7,-8.7,-5.7,-3.7,-4.7,-4.2,-3.7,-4.2,-7.7,-3.7,-5.7,-10.7,-6.7,-18.7,-5.7,-4.7,-5.2,-9.7,-12.7,-7.7,-5.7,-4.7,-4.2,-3.7,-4.2,-7.7,-4.2,-7.7,-5.7,-4.7,-3.7,-6.7,-15.2,-10.7,-5.7,-11.7,-15.7,-7.7,-4.7,-5.7,-6.7,-8.7,-10.2,-6.7,-7.7,-10.2,-6.7,-4.7,-3.7,-2.2,0,0,-2.7,-6.7,-8.7,-10.7,-14.7,-19.2,-13.7,-10.7,-11.7,-9.7,-5.7,-1.7,0];
const hseDnNi = [-1.7,-2.7,-3.7,-4.2,-3.2,-2.2,-2.7,-2.5,-2.2,-2.5,-3.7,-2.2,-3.7,-5.7,-4.7,-7.7,-3.7,-3.2,-3.5,-4.7,-5.7,-4.2,-3.7,-3.2,-2.9,-2.7,-2.9,-4.7,-3.2,-4.7,-3.9,-3.5,-2.7,-5.7,-11.7,-8.7,-4.7,-9.7,-12.7,-6.7,-4.2,-4.7,-5.2,-6.2,-7.2,-5.2,-5.7,-6.7,-5.2,-3.7,-2.7,-1.7,0,0,-1.7,-4.7,-6.7,-8.7,-11.7,-13.7,-10.7,-8.7,-9.2,-7.7,-4.7,-1.2,0];
const hseDnO = [-1.2,-1.7,-2.2,-2.7,-1.7,-1.2,-1.5,-1.5,-1.2,-1.5,-2.2,-1.5,-3.7,-4.7,-3.7,-8.7,-2.7,-2.2,-2.5,-3.7,-4.7,-3.2,-2.7,-2.5,-2.2,-1.7,-2.2,-4.2,-2.7,-3.7,-2.7,-2.2,-1.7,-2.7,-3.7,-3.7,-2.7,-3.7,-4.2,-2.7,-2.2,-2.5,-2.7,-2.9,-3.2,-2.5,-2.7,-2.9,-2.5,-1.9,-1.5,-0.9,0,0,-0.7,-2.7,-2.9,-2.7,-2.7,-2.2,-1.9,-1.7,-1.9,-1.7,-1.2,-0.7,0];

const energyTicks = [-6, -4, -2, 0, 2, 4];
const legendNames = ["total", "Ni 3d", "O 2p"];

const panels = [
  { tag: "(a)", title: ["PBE"], up: [pbeUpE, pbeUpTot, pbeUpNi, pbeUpO], dn: [pbeDnE, pbeDnTot, pbeDnNi, pbeDnO] },
  { tag: "(b)", title: ["PBE+U (6 eV)"], up: [pbeuUpE, pbeuUpTot, pbeuUpNi, pbeuUpO], dn: [pbeuDnE, pbeuDnTot, pbeuDnNi, pbeuDnO] },
  { tag: "(c)", title: ["PBE+U+V", "(6 eV, 0.55 eV)"], up: [pbeuvUpE, pbeuvUpTot, pbeuvUpNi, pbeuvUpO], dn: [pbeuvDnE, pbeuvDnTot, pbeuvDnNi, pbeuvDnO] },
  { tag: "(d)", title: ["r2SCAN"], up: [r2scanUpE, r2scanUpTot, r2scanUpNi, r2scanUpO], dn: [r2scanDnE, r2scanDnTot, r2scanDnNi, r2scanDnO] },
  { tag: "(e)", title: ["SCAN"], up: [scanUpE, scanUpTot, scanUpNi, scanUpO], dn: [scanDnE, scanDnTot, scanDnNi, scanDnO] },
  { tag: "(f)", title: ["HSE"], up: [hseUpE, hseUpTot, hseUpNi, hseUpO], dn: [hseDnE, hseDnTot, hseDnNi, hseDnO] }
];

// layout
const svg = d3.select("svg#chart");
const colLeft = [35.5, 430, 839.5];
const rowTop = [44, 308.3];
const pw = 350.5, ph = 253;
const tagX = [4, 399, 808];
const dosX = [17, 412, 825];
const titleX = [172, 172, 194, 168, 168, 221];

const colTot = "#000000", colNi = "#ee82ee", colO = "#1fa84a";
const fills = [
  { color: "#d3d3d3", op: 0.85 },
  { color: "#ee82ee", op: 0.27 },
  { color: "#22aa55", op: 0.3 }
];
const strokes = [
  { color: colTot, w: 1.8 },
  { color: colNi, w: 1.5 },
  { color: colO, w: 1.6 }
];

panels.forEach((p, i) => {
  const col = i % 3, row = Math.floor(i / 3);
  const left = colLeft[col], top = rowTop[row];
  const x = d3.scaleLinear().domain([-6, 4]).range([left, left + pw]);
  const y = d3.scaleLinear().domain([-38, 38]).range([top + ph, top]);

  const g = svg.append("g");
  const clipId = "clip" + i;
  svg.append("clipPath").attr("id", clipId)
    .append("rect").attr("x", left).attr("y", top).attr("width", pw).attr("height", ph);

  const plot = g.append("g").attr("clip-path", `url(#${clipId})`);
  const area = d3.area().x(d => x(d[0])).y0(y(0)).y1(d => y(d[1]));
  const line = d3.line().x(d => x(d[0])).y(d => y(d[1]));

  const spins = [p.up, p.dn];
  // fills first
  spins.forEach(s => {
    [1, 2, 3].forEach(k => {
      const pts = s[0].map((e, j) => [e, s[k][j]]);
      plot.append("path").datum(pts)
        .attr("d", area)
        .attr("fill", fills[k - 1].color)
        .attr("fill-opacity", fills[k - 1].op)
        .attr("stroke", "none");
    });
  });
  // zero line
  plot.append("line")
    .attr("x1", x(-6)).attr("x2", x(4))
    .attr("y1", y(0)).attr("y2", y(0))
    .attr("stroke", colO).attr("stroke-width", 1.8);
  // lines
  [1, 2, 3].forEach(k => {
    spins.forEach(s => {
      const pts = s[0].map((e, j) => [e, s[k][j]]);
      plot.append("path").datum(pts)
        .attr("d", line)
        .attr("fill", "none")
        .attr("stroke", strokes[k - 1].color)
        .attr("stroke-width", strokes[k - 1].w)
        .attr("stroke-linejoin", "round");
    });
  });

  // frame
  g.append("rect")
    .attr("x", left).attr("y", top).attr("width", pw).attr("height", ph)
    .attr("fill", "none").attr("stroke", "#000").attr("stroke-width", 1);

  // x axis, ticks pointing in
  const axis = d3.axisBottom(x).tickValues(energyTicks)
    .tickSizeInner(-5).tickSizeOuter(0).tickPadding(3);
  if (row === 0) axis.tickFormat("");
  const ax = g.append("g").attr("transform", `translate(0,${top + ph})`).call(axis);
  ax.select(".domain").remove();
  ax.selectAll(".tick line").attr("stroke", "#000");
  ax.selectAll(".tick text")
    .style("font-family", '"Liberation Sans", Arial, sans-serif')
    .style("font-size", "16px").attr("fill", "#000");

  if (row === 1) {
    g.append("text")
      .attr("x", left + pw / 2).attr("y", 599)
      .attr("text-anchor", "middle")
      .style("font-size", "16.5px")
      .text("Energy (eV)");
  }

  // y label
  g.append("text")
    .attr("transform", `translate(${dosX[col]},${top + ph / 2}) rotate(-90)`)
    .attr("text-anchor", "middle")
    .attr("dominant-baseline", "central")
    .style("font-size", "15px")
    .text("DOS");

  // panel tag
  g.append("text")
    .attr("x", tagX[col]).attr("y", top + (row === 0 ? 18 : 16))
    .style("font-size", "23px")
    .text(p.tag);

  // title
  const tx = left + titleX[i];
  const tBase = top + (row === 0 ? 26 : 23);
  if (p.title[0] === "r2SCAN") {
    const t = g.append("text").attr("x", tx).attr("y", tBase)
      .attr("text-anchor", "middle").style("font-size", "22px");
    t.append("tspan").style("font-style", "italic").text("r");
    t.append("tspan").attr("dy", -8).style("font-size", "15px").text("2");
    t.append("tspan").attr("dy", 8).text("SCAN");
  } else {
    p.title.forEach((s, k) => {
      g.append("text")
        .attr("x", tx).attr("y", tBase + (i === 2 ? -2 : 0) + k * 27)
        .attr("text-anchor", "middle")
        .style("font-size", "22px")
        .text(s);
    });
  }
});

// legend
const legendLine = ["#000000", "#e8a0e4", "#4caa30"];
const legendText = ["#000000", "#d870d6", "#50ad38"];
const legendX = [358, 548, 727];
legendNames.forEach((name, k) => {
  svg.append("line")
    .attr("x1", legendX[k]).attr("x2", legendX[k] + 44)
    .attr("y1", 13).attr("y2", 13)
    .attr("stroke", legendLine[k]).attr("stroke-width", 3.5);
  svg.append("text")
    .attr("x", legendX[k] + 53).attr("y", 21)
    .style("font-family", '"Noto Sans", "Open Sans", sans-serif')
    .style("font-size", "21px")
    .style("fill", legendText[k])
    .text(name);
});
</script>
</body>
</html>
